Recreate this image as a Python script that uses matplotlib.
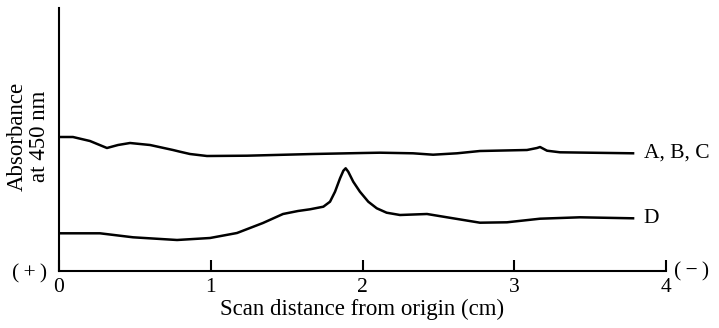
import matplotlib
matplotlib.use("Agg")
import matplotlib.pyplot as plt

plt.rcParams['font.family'] = ['Liberation Serif', 'DejaVu Serif']

# Curve A, B, C (scan distance in cm, absorbance in arbitrary units)
abc_x = [0.0, 0.092, 0.204, 0.316, 0.389, 0.468, 0.600, 0.751, 0.797, 0.863,
         0.975, 1.239, 1.674, 2.003, 2.115, 2.333, 2.465, 2.623, 2.774, 3.084,
         3.150, 3.170, 3.216, 3.301, 3.783]
abc_y = [134, 134, 130, 123, 126, 128, 126, 121, 119.3, 117,
         115, 115.3, 117, 118, 118.3, 117.7, 116.3, 117.7, 120, 121,
         123, 124, 120.3, 118.7, 117.7]

# Curve D
d_x = [0.0, 0.270, 0.488, 0.778, 0.995, 1.173, 1.344, 1.476, 1.575, 1.654,
       1.742, 1.786, 1.819, 1.852, 1.874, 1.889, 1.906, 1.939, 1.983, 2.038,
       2.094, 2.159, 2.247, 2.425, 2.557, 2.774, 2.952, 3.170, 3.433, 3.783]
d_y = [37.7, 37.7, 33.7, 31, 33, 38, 48, 57, 60, 61.7,
       64.3, 69.3, 79.3, 92.7, 100.3, 102.7, 99.3, 89.3, 79.3, 69.3,
       62.7, 58.3, 56, 57, 53.7, 48.3, 48.7, 52.3, 53.7, 52.7]

xticks = [0, 1, 2, 3, 4]
xtick_labels = ['0', '1', '2', '3', '4']

fig = plt.figure(figsize=(7.19, 3.28), dpi=100)
ax = fig.add_axes([59/719, 1-271/328, (666-59)/719, (271-8)/328])

ax.plot(abc_x, abc_y, color='black', lw=1.8, solid_joinstyle='round')
ax.plot(d_x, d_y, color='black', lw=1.8, solid_joinstyle='round')

ax.set_xlim(0, 4)
ax.set_ylim(0, 263)
for s in ['top', 'right']:
    ax.spines[s].set_visible(False)
ax.spines['left'].set_linewidth(1.5)
ax.spines['bottom'].set_linewidth(1.5)
ax.set_yticks([])
ax.set_xticks(xticks)
ax.set_xticklabels(xtick_labels, fontsize=15.5)
ax.tick_params(axis='x', direction='in', length=8, width=1.5, pad=5)

ax.set_xlabel('Scan distance from origin (cm)', fontsize=16.5, labelpad=1)
fig.text(28.5/719, 1-136/328, 'Absorbance\nat 450 nm', fontsize=16.5,
         rotation=90, ha='center', va='center', multialignment='center',
         linespacing=1.1)

ax.text(abc_x[-1] + 0.07, abc_y[-1], 'A, B, C', fontsize=15.5, va='center', ha='left')
ax.text(d_x[-1] + 0.07, d_y[-1], 'D', fontsize=15.5, va='center', ha='left')
ax.text(-0.075, -3, '(\u2009+\u2009)', fontsize=15.5, va='center', ha='right', clip_on=False)
ax.text(4.055, -1, '(\u2009\u2212\u2009)', fontsize=15.5, va='center', ha='left', clip_on=False)

fig.savefig('out.png', dpi=100)
